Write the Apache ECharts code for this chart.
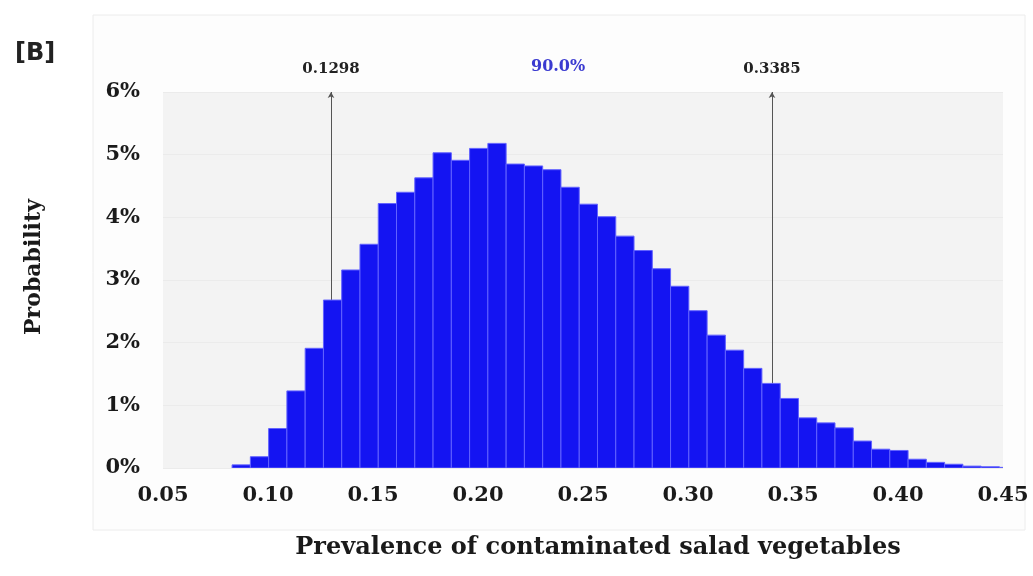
<!DOCTYPE html>
<html>
<head>
<meta charset="utf-8">
<script src="https://cdn.jsdelivr.net/npm/echarts@6/dist/echarts.min.js"></script>
<style>
  html, body { margin: 0; padding: 0; background: #ffffff; }
  #chart { width: 1033px; height: 576px; }
</style>
</head>
<body>
<div id="chart"></div>
<script>
// ---- data ----
const binStart = 0.0829;   // lower edge of first histogram bin
const binWidth = 0.0087;   // width of each bin
const probabilities = [
  0.0005, 0.0018, 0.0063, 0.0123, 0.0191, 0.0268, 0.0316, 0.0357, 0.0422, 0.0440,
  0.0463, 0.0503, 0.0491, 0.0510, 0.0518, 0.0485, 0.0482, 0.0476, 0.0448, 0.0421,
  0.0401, 0.0370, 0.0347, 0.0318, 0.0290, 0.0251, 0.0212, 0.0188, 0.0159, 0.0135,
  0.0111, 0.0080, 0.0072, 0.0064, 0.0043, 0.0030, 0.0028, 0.0014, 0.0009, 0.0006,
  0.0003, 0.0002, 0.0001
];
const xTicks = [0.05, 0.10, 0.15, 0.20, 0.25, 0.30, 0.35, 0.40, 0.45];
const yTicks = [0, 0.01, 0.02, 0.03, 0.04, 0.05, 0.06];
const bounds = [0.1298, 0.3385];
const boundLabels = ['0.1298', '0.3385'];
const centralLabel = '90.0%';
const xTitle = 'Prevalence of contaminated salad vegetables';
const yTitle = 'Probability';
const panelLabel = '[B]';

// build histogram rows [x0, x1, p]
const bins = probabilities.map((p, i) => [binStart + i * binWidth, binStart + (i + 1) * binWidth, p]);

const serif = 'DejaVu Serif';
const chart = echarts.init(document.getElementById('chart'), null, { renderer: 'canvas' });

chart.setOption({
  backgroundColor: '#ffffff',
  animation: false,
  graphic: [
    { type: 'rect', z: -10, shape: { x: 93, y: 15, width: 932, height: 515 },
      style: { fill: '#fdfdfd', stroke: '#ececec', lineWidth: 1 } },
    { type: 'text', left: 15, top: 42,
      style: { text: panelLabel, font: 'bold 24px "DejaVu Sans"', fill: '#222222' } },
    { type: 'text', left: 531, top: 59,
      style: { text: centralLabel, font: 'bold 16px "DejaVu Serif"', fill: '#3a3ad0' } }
  ],
  grid: {
    left: 163, right: 30, top: 92, bottom: 108,
    show: true, backgroundColor: '#f3f3f3', borderWidth: 0
  },
  xAxis: {
    type: 'value',
    min: xTicks[0], max: xTicks[xTicks.length - 1], interval: 0.05,
    axisLine: { show: false }, axisTick: { show: false }, splitLine: { show: false },
    axisLabel: {
      margin: 17, color: '#1a1a1a', fontFamily: serif, fontWeight: 'bold', fontSize: 21,
      formatter: v => v.toFixed(2)
    },
    name: xTitle, nameLocation: 'middle', nameGap: 68,
    nameTextStyle: { color: '#1a1a1a', fontFamily: serif, fontWeight: 'bold', fontSize: 24,
      padding: [0, 0, 0, 30] }
  },
  yAxis: {
    type: 'value',
    min: yTicks[0], max: yTicks[yTicks.length - 1], interval: 0.01,
    axisLine: { show: false }, axisTick: { show: false },
    splitLine: { show: true, lineStyle: { color: '#ebebeb', width: 1 } },
    axisLabel: {
      margin: 23, color: '#1a1a1a', fontFamily: serif, fontWeight: 'bold', fontSize: 21,
      formatter: v => Math.round(v * 100) + '%'
    },
    name: yTitle, nameLocation: 'middle', nameGap: 118, nameRotate: 90,
    nameTextStyle: { color: '#1a1a1a', fontFamily: serif, fontWeight: 'bold', fontSize: 22,
      padding: [0, 0, 0, 26] }
  },
  series: [
    {
      type: 'line', data: [], z: 1, silent: true,
      markLine: {
        z: 1, silent: true, symbol: ['none', 'arrow'], symbolSize: [5, 6],
        lineStyle: { color: '#555555', width: 1, type: 'solid' },
        label: {
          show: true, position: 'end', distance: 15,
          color: '#222222', fontFamily: serif, fontWeight: 'bold', fontSize: 15,
          formatter: '{b}'
        },
        data: bounds.map((b, i) => ({ xAxis: b, name: boundLabels[i] }))
      }
    },
    {
      type: 'custom', z: 3, clip: true,
      data: bins,
      encode: { x: [0, 1], y: 2 },
      renderItem: function (params, api) {
        const p0 = api.coord([api.value(0), api.value(2)]);
        const p1 = api.coord([api.value(1), 0]);
        return {
          type: 'rect',
          shape: { x: p0[0], y: p0[1], width: p1[0] - p0[0], height: p1[1] - p0[1] },
          style: { fill: '#1414f2', stroke: '#6262ff', lineWidth: 1 }
        };
      }
    }
  ]
});
</script>
</body>
</html>
